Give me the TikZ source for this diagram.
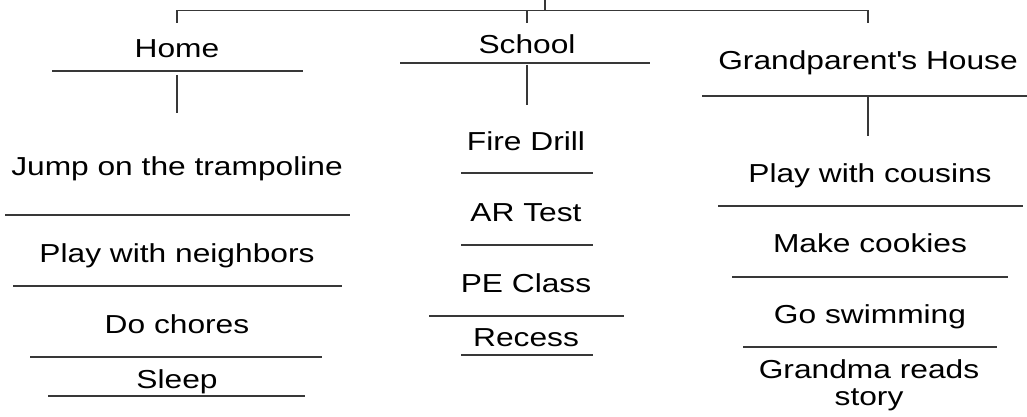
\documentclass[tikz,border=0pt]{standalone}
\usepackage{fontspec}
\setmainfont[FakeStretch=1.22]{Liberation Sans}
\usetikzlibrary{calc}
\tikzset{
  lbl/.style={anchor=base,inner sep=0pt,align=center,font=\fontsize{26}{27}\selectfont},
  ln/.style={line width=1.5pt,draw=black!78},
}
\begin{document}
\begin{tikzpicture}[x=1pt,y=-1pt]
	\useasboundingbox (0,0) rectangle (1027,417);
	% places
	\node[lbl] (home) at (177,58) {Home};
	\node[lbl] (school) at (527,54) {School};
	\node[lbl] (gp) at (868,70) {Grandparent\textquotesingle s House};
	% home
	\node[lbl] (jump) at (177,175) {Jump on the trampoline};
	\node[lbl] (nbr) at (177,262) {Play with neighbors};
	\node[lbl] (chores) at (177,333) {Do chores};
	\node[lbl] (sleep) at (177,388) {Sleep};
	% school
	\node[lbl] (fire) at (526,150) {Fire Drill};
	\node[lbl] (ar) at (526,221) {AR Test};
	\node[lbl] (pe) at (526,292) {PE Class};
	\node[lbl] (recess) at (526,346) {Recess};
	% grandparents
	\node[lbl] (cousins) at (870,182) {Play with cousins};
	\node[lbl] (cookies) at (870,252) {Make cookies};
	\node[lbl] (swim) at (870,323) {Go swimming};
	\node[lbl] (grandma) at (869,405) {Grandma reads\\story};
	% tree
	\coordinate (root) at (545,0);
	\coordinate (bar) at (545,10.5);
	\draw[ln] (root) -- (bar);
	\draw[ln] ($(home.base)+(0,-35)$) |- (bar -| gp.base) -- ++(0,12.5);
	\draw[ln] ($(school.base)+(0,-31)$) -- ++(0,-12.5);
	\draw[ln] ($(home.base)+(0,17)$) -- ++(0,38);
	\draw[ln] ($(school.base)+(0,11)$) -- ++(0,40);
	\draw[ln] ($(gp.base)+(0,27)$) -- ++(0,39);
	% rules under the texts
	\foreach \xa/\xb/\y in {52/303/71, 5/350/215, 13/342/286, 30/322/357, 48/305/396,
		400/650/63, 461/593/173, 461/593/245, 429/624/316, 461/593/355,
		702/1027/96, 718/1023/206, 732/1008/277, 743/997/347}
		\draw[ln] (\xa,\y) -- (\xb,\y);
\end{tikzpicture}
\end{document}
